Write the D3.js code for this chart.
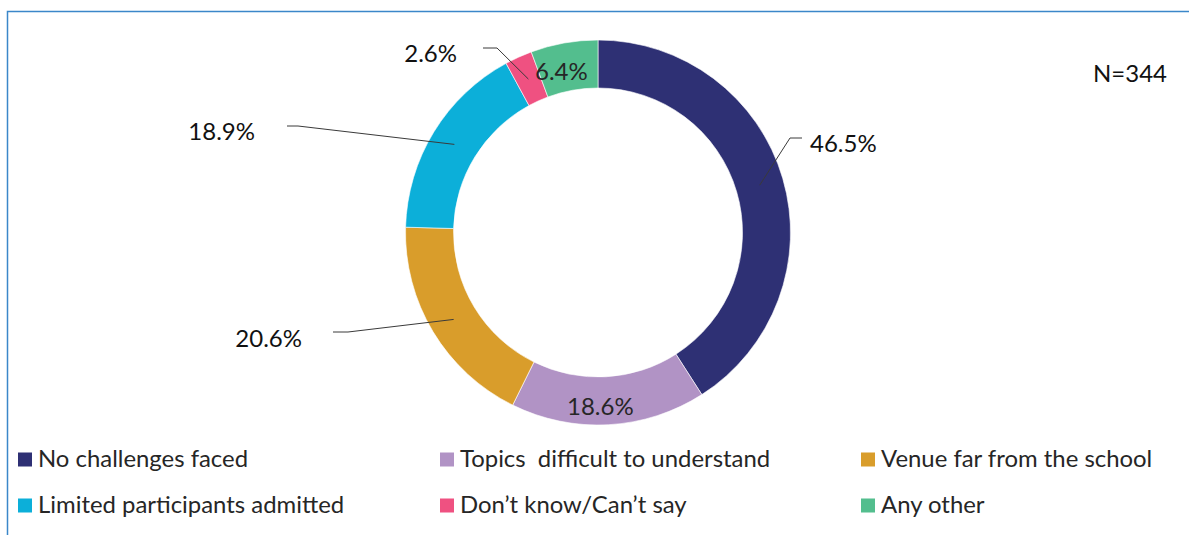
<!DOCTYPE html>
<html>
<head>
<meta charset="utf-8">
<script src="https://cdn.jsdelivr.net/npm/d3@7/dist/d3.min.js"></script>
<style>
  html, body { margin: 0; padding: 0; background: #fff; }
  svg { display: block; }
  text { font-family: Lato, "Open Sans", sans-serif; }
</style>
</head>
<body>
<svg id="chart" width="1189" height="535"></svg>
<script>
// Reported challenges (percent of respondents, multiple responses allowed)
const categories = [
  "No challenges faced",
  "Topics  difficult to understand",
  "Venue far from the school",
  "Limited participants admitted",
  "Don\u2019t know/Can\u2019t say",
  "Any other"
];
const values = [46.5, 18.6, 20.6, 18.9, 2.6, 6.4];
const sampleNote = "N=344";

const colors = ["#2e3074", "#b193c5", "#d99d2b", "#0cafd9", "#ef5181", "#53be8e"];

// Label placement: "in" = centred on the ring; otherwise a leader line
// runs from the ring to an elbow, then a short horizontal tick.
const labelLayout = [
  { mode: "out", elbow: [192, -94.5], side: 1, tick: 12, gap: 8, dy: 4 },
  { mode: "in", dx: -7, dy: 5 },
  { mode: "out", elbow: [-250, 99.5], side: -1, tick: 15, gap: 31, dy: 5 },
  { mode: "out", elbow: [-300, -106.5], side: -1, tick: 11, gap: 32, dy: 4 },
  { mode: "out", elbow: [-101, -184.5], side: -1, tick: 14, gap: 26, dy: 4 },
  { mode: "in", dx: -7, dy: 4 }
];

const W = 1189, H = 535;
const cx = 598, cy = 232.5;
const outerR = 192.5, innerR = 144.5;

const svg = d3.select("#chart");

// frame (right and bottom edges fall outside the view)
svg.append("rect")
  .attr("x", 7.5).attr("y", 11.5)
  .attr("width", W + 20).attr("height", H + 20)
  .attr("fill", "none")
  .attr("stroke", "#3b87c9")
  .attr("stroke-width", 1.5);

const g = svg.append("g").attr("transform", `translate(${cx},${cy})`);

const pie = d3.pie().sort(null).value(d => d.value);
const data = pie(categories.map((c, i) => ({ name: c, value: values[i], i })));

const arc = d3.arc().innerRadius(innerR).outerRadius(outerR);
const midArc = d3.arc().innerRadius((innerR + outerR) / 2).outerRadius((innerR + outerR) / 2);

g.selectAll("path.slice")
  .data(data)
  .join("path")
  .attr("class", "slice")
  .attr("d", arc)
  .attr("fill", d => colors[d.data.i])
  .attr("stroke", "#fff")
  .attr("stroke-width", 0.6);

// value labels
data.forEach(d => {
  const L = labelLayout[d.data.i];
  const [mx, my] = midArc.centroid(d);
  const txt = d.data.value.toFixed(1) + "%";
  if (L.mode === "in") {
    g.append("text")
      .attr("x", mx + L.dx).attr("y", my + L.dy)
      .attr("text-anchor", "middle")
      .attr("dominant-baseline", "central")
      .attr("font-size", 24)
      .attr("fill", "#262626")
      .text(txt);
  } else {
    const [ex, ey] = L.elbow;
    const tx = ex + L.side * L.tick;
    g.append("path")
      .attr("d", d3.line()([[mx, my], [ex, ey], [tx, ey]]))
      .attr("fill", "none")
      .attr("stroke", "#3a3a3a")
      .attr("stroke-width", 1);
    g.append("text")
      .attr("x", tx + L.side * L.gap).attr("y", ey + L.dy)
      .attr("text-anchor", L.side > 0 ? "start" : "end")
      .attr("dominant-baseline", "central")
      .attr("font-size", 24)
      .attr("fill", "#111")
      .text(txt);
  }
});

// sample size note
svg.append("text")
  .attr("x", 1167).attr("y", 72)
  .attr("text-anchor", "end")
  .attr("dominant-baseline", "central")
  .attr("font-family", "'Liberation Sans', Arial, sans-serif")
  .attr("font-size", 24)
  .attr("fill", "#111")
  .text(sampleNote);

// legend: three columns, two rows
const colX = [18, 440, 861];
const rowBase = [466.5, 512.5];
const legend = svg.append("g");
categories.forEach((c, i) => {
  const x = colX[i % 3], base = rowBase[Math.floor(i / 3)];
  legend.append("rect")
    .attr("x", x).attr("y", base - 14)
    .attr("width", 14).attr("height", 14)
    .attr("fill", colors[i]);
  legend.append("text")
    .attr("x", x + 20).attr("y", base)
    .attr("font-size", 23.9)
    .attr("fill", "#262626")
    .style("white-space", "pre")
    .text(c);
});
</script>
</body>
</html>
